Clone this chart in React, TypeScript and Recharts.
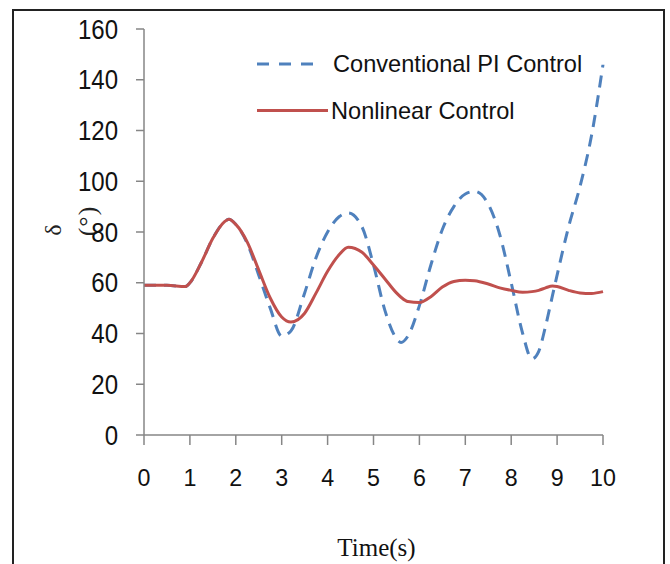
import React from 'react';
import { LineChart, Line, XAxis, YAxis, Label } from 'recharts';

const times = [0, 0.5, 0.9, 1.0, 1.25, 1.5, 1.75, 1.85, 2.0, 2.25, 2.5, 2.75, 3.0, 3.2, 3.5, 3.75, 4.0, 4.25, 4.45, 4.75, 5.0, 5.25, 5.5, 5.6, 5.75, 6.0, 6.25, 6.5, 6.75, 7.0, 7.2, 7.5, 7.75, 8.0, 8.25, 8.45, 8.6, 8.75, 8.9, 9.0, 9.25, 9.5, 9.75, 10.0];
const piControl = [59, 59, 58.5, 60, 68, 77.5, 84, 85, 83, 75.5, 63, 50, 39, 41, 56, 70, 80, 86, 87.5, 82, 67, 49, 38, 36.5, 39, 51, 67, 81, 90, 95, 96, 91, 79, 60, 40, 30, 33, 43, 55, 63, 82, 98, 118, 146];
const nonlinearControl = [59, 59, 58.5, 60, 68, 77.5, 84, 85, 83, 76, 65, 54, 46.5, 44.5, 48, 56, 64.5, 71, 74, 72, 67, 61.5, 56, 54.3, 52.6, 52.2, 54.5, 58.3, 60.5, 61, 60.8, 59.5, 58, 57, 56.3, 56.5, 57, 58, 58.7, 58.5, 57, 56, 55.8, 56.5];

const xTicks = [0, 1, 2, 3, 4, 5, 6, 7, 8, 9, 10];
const yTicks = [0, 20, 40, 60, 80, 100, 120, 140, 160];
const seriesNames = ['Conventional PI Control', 'Nonlinear Control'];

const data = times.map((t, i) => ({ t, pi: piControl[i], nl: nonlinearControl[i] }));

const BLUE = '#4F81BD';
const RED = '#C0504D';
const AXIS = '#868686';
const SANS = "'Liberation Sans', Arial, sans-serif";
const SERIF = "'Liberation Serif', 'Times New Roman', serif";
const DASH = '12 8';

const XTick = (props: any) => {
  const { x, y, payload } = props;
  return (
    <text transform={`translate(${x},${y}) scale(0.95,1)`} textAnchor="middle" dy="0.71em" fontFamily={SANS} fontSize={24.5} fill="#111">
      {payload.value}
    </text>
  );
};

const YTick = (props: any) => {
  const { x, y, payload } = props;
  return (
    <text transform={`translate(${x},${y}) scale(0.89,1)`} textAnchor="end" dy="0.355em" fontFamily={SANS} fontSize={27} fill="#111">
      {payload.value}
    </text>
  );
};

const XLabel = (props: any) => {
  const vb = props.viewBox || { x: 144, width: 459 };
  return (
    <text x={vb.x + vb.width / 2 + 3} y={556} textAnchor="middle" fontFamily={SERIF} fontSize={25} fill="#111">
      Time(s)
    </text>
  );
};

const YLabel = () => (
  <g>
    <text x={0} y={0} transform="translate(61,230) rotate(-90)" textAnchor="middle" fontFamily={SERIF} fontSize={24} fill="#222">
      δ
    </text>
    <text x={0} y={0} transform="translate(96,221) rotate(-90)" textAnchor="middle" fontFamily={SERIF} fontSize={26} fill="#222" letterSpacing={1}>
      (°)
    </text>
  </g>
);

export default function App() {
  return (
    <div style={{ position: 'absolute', left: 0, top: 0, width: 670, height: 564, background: '#fff', overflow: 'hidden' }}>
      <div style={{ position: 'absolute', left: 12, top: 9, width: 653, height: 620, border: '2px solid #222', boxSizing: 'border-box' }} />
      <div style={{ position: 'absolute', left: 0, top: 0 }}>
        <LineChart width={670} height={564} data={data} margin={{ top: 29, right: 67, bottom: 69, left: 84 }}>
          <XAxis
            dataKey="t"
            type="number"
            domain={[0, 10]}
            ticks={xTicks}
            interval={0}
            height={60}
            tickSize={10}
            tickMargin={24}
            tick={XTick}
            tickLine={{ stroke: AXIS, strokeWidth: 1.5 }}
            axisLine={{ stroke: AXIS, strokeWidth: 1.5 }}
          >
            <Label content={XLabel} />
          </XAxis>
          <YAxis
            type="number"
            domain={[0, 160]}
            ticks={yTicks}
            interval={0}
            width={60}
            tickSize={8}
            tickMargin={18}
            tick={YTick}
            tickLine={{ stroke: AXIS, strokeWidth: 1.5 }}
            axisLine={{ stroke: AXIS, strokeWidth: 1.5 }}
          >
            <Label content={YLabel} />
          </YAxis>
          <Line type="monotone" dataKey="pi" name={seriesNames[0]} stroke={BLUE} strokeWidth={3} strokeDasharray={DASH} dot={false} isAnimationActive={false} />
          <Line type="monotone" dataKey="nl" name={seriesNames[1]} stroke={RED} strokeWidth={3} dot={false} isAnimationActive={false} />
        </LineChart>
      </div>
      <svg width={670} height={564} style={{ position: 'absolute', left: 0, top: 0, pointerEvents: 'none' }}>
        <line x1={257} y1={64} x2={313} y2={64} stroke={BLUE} strokeWidth={3} strokeDasharray="12 10" />
        <text x={333} y={72} fontFamily={SANS} fontSize={23.6} fill="#111">{seriesNames[0]}</text>
        <line x1={257} y1={110.5} x2={328} y2={110.5} stroke={RED} strokeWidth={3} />
        <text x={331} y={118.5} fontFamily={SANS} fontSize={23.6} fill="#111">{seriesNames[1]}</text>
      </svg>
    </div>
  );
}
